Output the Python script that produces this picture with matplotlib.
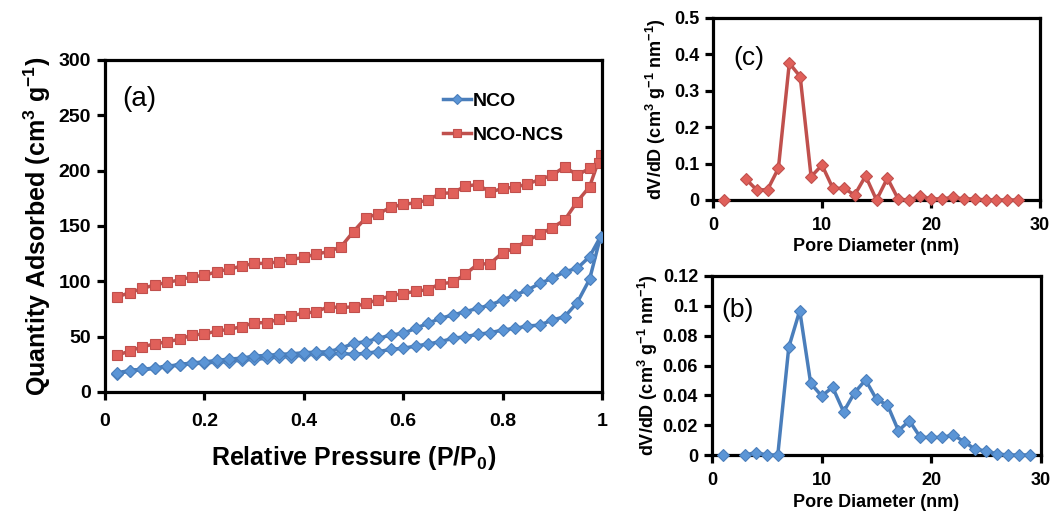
import numpy as np
import matplotlib
matplotlib.use("Agg")
import matplotlib.pyplot as plt
from matplotlib.ticker import FuncFormatter

plt.rcParams['font.family'] = ['Liberation Sans', 'DejaVu Sans']
plt.rcParams['mathtext.fontset'] = 'custom'
plt.rcParams['mathtext.rm'] = 'Liberation Sans:bold'
plt.rcParams['mathtext.bf'] = 'Liberation Sans:bold'
plt.rcParams['mathtext.default'] = 'rm'

# ---------------- N2 isotherms (relative pressure P/P0) ----------------
p_ads = [0.025, 0.05, 0.075, 0.10, 0.125, 0.15, 0.175, 0.20, 0.225, 0.25,
         0.275, 0.30, 0.325, 0.35, 0.375, 0.40, 0.425, 0.45, 0.475, 0.50,
         0.525, 0.55, 0.575, 0.60, 0.625, 0.65, 0.675, 0.70, 0.725, 0.75,
         0.775, 0.80, 0.825, 0.85, 0.875, 0.90, 0.925, 0.95, 0.975, 0.997]
p_des = [0.993, 0.975, 0.95, 0.925, 0.90, 0.875, 0.85, 0.825, 0.80, 0.775,
         0.75, 0.725, 0.70, 0.675, 0.65, 0.625, 0.60, 0.575, 0.55, 0.525,
         0.50, 0.475, 0.45, 0.425, 0.40, 0.375, 0.35, 0.325, 0.30, 0.275,
         0.25, 0.225, 0.20, 0.175, 0.15, 0.125, 0.10, 0.075, 0.05, 0.025]

nco_ads = [16.3, 19.3, 20.5, 21.4, 22.9, 24.4, 25.9, 25.9, 27.4, 27.4,
           28.9, 29.5, 30.4, 31.9, 31.9, 33.4, 34.3, 34.3, 34.9, 34.0,
           35.0, 36.5, 38.5, 39.5, 41.5, 43.4, 45.5, 48.5, 50.0, 52.1,
           53.6, 56.0, 57.5, 59.6, 60.5, 65.0, 68.1, 80.7, 101.8, 140.3]
# NCO desorption starts at 0.975
nco_p_des = p_des[1:]
nco_des = [122.3, 111.7, 108.7, 102.7, 98.2, 92.1, 87.6, 83.1, 78.6,
           75.6, 72.6, 69.6, 66.6, 62.1, 57.5, 53.0, 51.5, 48.5, 45.5,
           44.0, 39.5, 36.4, 36.0, 35.5, 34.5, 34.0, 33.0, 32.5, 30.5,
           29.8, 28.5, 27.2, 26.3, 24.8, 23.2, 21.6, 20.6, 19.4, 17.4]

ncs_ads = [33.4, 37.0, 40.9, 43.4, 45.5, 47.6, 51.5, 52.4, 55.1, 56.6,
           59.0, 62.6, 62.6, 65.7, 69.0, 71.1, 72.6, 77.1, 76.2, 77.0,
           80.0, 83.5, 87.0, 89.0, 91.0, 92.5, 98.0, 99.0, 106.5, 115.5,
           116.0, 126.0, 130.0, 137.0, 142.5, 148.5, 155.5, 172.0, 185.5, 214.0]
ncs_des = [206.6, 202.0, 196.0, 203.5, 196.0, 192.0, 188.0, 185.0, 184.0,
           180.5, 187.5, 186.0, 180.0, 179.5, 173.5, 171.0, 169.5, 167.0,
           161.0, 157.5, 145.0, 131.3, 126.8, 124.7, 121.6, 119.8, 117.7,
           116.2, 116.2, 113.8, 111.1, 108.7, 105.4, 104.2, 101.2, 99.1,
           96.7, 93.6, 89.7, 86.1]

# ---------------- Pore size distributions ----------------
pore_d = [1, 2, 3, 4, 5, 6, 7, 8, 9, 10, 11, 12, 13, 14, 15, 16, 17, 18,
          19, 20, 21, 22, 23, 24, 25, 26, 27, 28, 29]
psd_ncs = [0.0, np.nan, 0.058, 0.028, 0.028, 0.087, 0.376, 0.339, 0.064,
           0.096, 0.032, 0.032, 0.014, 0.066, 0.0, 0.060, 0.002, 0.0, 0.011,
           0.003, 0.003, 0.007, 0.003, 0.003, 0.0, 0.0, 0.0, 0.0, np.nan]
psd_nco = [0.0, np.nan, 0.0, 0.0016, 0.0, 0.0, 0.0722, 0.0968, 0.048,
           0.0396, 0.0454, 0.029, 0.0418, 0.0503, 0.0373, 0.0335, 0.0163,
           0.023, 0.0118, 0.0118, 0.0118, 0.0134, 0.0089, 0.0038, 0.0027,
           0.0007, 0.0, 0.0, 0.0]

BLUE_LINE = '#4A7EBB'
BLUE_FACE = '#5B95D6'
RED_LINE = '#C0504D'
RED_FACE = '#E0605A'

W, H = 1057, 520
fig = plt.figure(figsize=(W / 100, H / 100), dpi=100)


def box(px_left, px_top, px_right, px_bottom):
    return fig.add_axes([px_left / W, 1 - px_bottom / H,
                         (px_right - px_left) / W, (px_bottom - px_top) / H])


def style(ax, tick_size, xpad=4):
    for s in ax.spines.values():
        s.set_linewidth(2.3)
        s.set_color('black')
    ax.tick_params(direction='out', length=6, width=2.3, labelsize=tick_size,
                   pad=4)
    ax.tick_params(axis='x', pad=xpad)
    for lab in ax.get_xticklabels() + ax.get_yticklabels():
        lab.set_fontweight('bold')
    fmt = FuncFormatter(lambda v, pos: f'{v:g}')
    ax.xaxis.set_major_formatter(fmt)
    ax.yaxis.set_major_formatter(fmt)


# ---- (a) isotherms ----
ax = box(105, 60, 602, 392)
ax.plot(p_ads + nco_p_des, nco_ads + nco_des, '-D', color=BLUE_LINE, lw=2.5,
        ms=6.5, mfc=BLUE_FACE, mec=BLUE_LINE, mew=0.8, label='NCO', zorder=3)
ax.plot(p_ads + p_des, ncs_ads + ncs_des, '-s', color=RED_LINE, lw=2.5,
        ms=7.8, mfc=RED_FACE, mec=RED_LINE, mew=0.8, label='NCO-NCS', zorder=2)
ax.set_xlim(0, 1)
ax.set_ylim(0, 300)
ax.set_xticks([0, 0.2, 0.4, 0.6, 0.8, 1])
ax.set_yticks(range(0, 301, 50))
style(ax, 14, xpad=9)
ax.set_xlabel('Relative Pressure (P/P$_0$)', fontsize=18, fontweight='bold',
              labelpad=10)
ax.set_ylabel('Quantity Adsorbed (cm$^3$ g$^{-1}$)', fontsize=18,
              fontweight='bold', labelpad=4)
ax.text(0.034, 265, '(a)', fontsize=20, va='center', ha='left')
leg = ax.legend(loc='upper left', bbox_to_anchor=(0.645, 0.955), frameon=False,
                prop={'weight': 'bold', 'size': 14}, handlelength=1.45,
                handletextpad=0.1, labelspacing=0.85, markerscale=0.75)

# ---- (c) PSD of NCO-NCS ----
axc = box(713, 18, 1040, 200)
axc.plot(pore_d, psd_ncs, '-D', color=RED_LINE, lw=2.5, ms=6.0,
         mfc=RED_FACE, mec=RED_LINE, mew=0.8, clip_on=False, zorder=3)
axc.set_xlim(0, 30)
axc.set_ylim(0, 0.5)
axc.set_xticks([0, 10, 20, 30])
axc.set_yticks([0, 0.1, 0.2, 0.3, 0.4, 0.5])
style(axc, 13, xpad=6)
axc.set_xlabel('Pore Diameter (nm)', fontsize=13, fontweight='bold', labelpad=3)
axc.set_ylabel('dV/dD (cm$^3$ g$^{-1}$ nm$^{-1}$)', fontsize=13,
               fontweight='bold', labelpad=4)
axc.text(1.9, 0.39, '(c)', fontsize=19, va='center', ha='left')

# ---- (b) PSD of NCO ----
axb = box(712, 276, 1041, 455)
axb.plot(pore_d, psd_nco, '-D', color=BLUE_LINE, lw=2.5, ms=6.0,
         mfc=BLUE_FACE, mec=BLUE_LINE, mew=0.8, clip_on=False, zorder=3)
axb.set_xlim(0, 30)
axb.set_ylim(0, 0.12)
axb.set_xticks([0, 10, 20, 30])
axb.set_yticks([0, 0.02, 0.04, 0.06, 0.08, 0.10, 0.12])
style(axb, 13, xpad=6)
axb.set_xlabel('Pore Diameter (nm)', fontsize=13, fontweight='bold', labelpad=4)
axb.set_ylabel('dV/dD (cm$^3$ g$^{-1}$ nm$^{-1}$)', fontsize=13,
               fontweight='bold', labelpad=2)
axb.text(0.9, 0.097, '(b)', fontsize=19, va='center', ha='left')

fig.savefig('out.png', dpi=100)
